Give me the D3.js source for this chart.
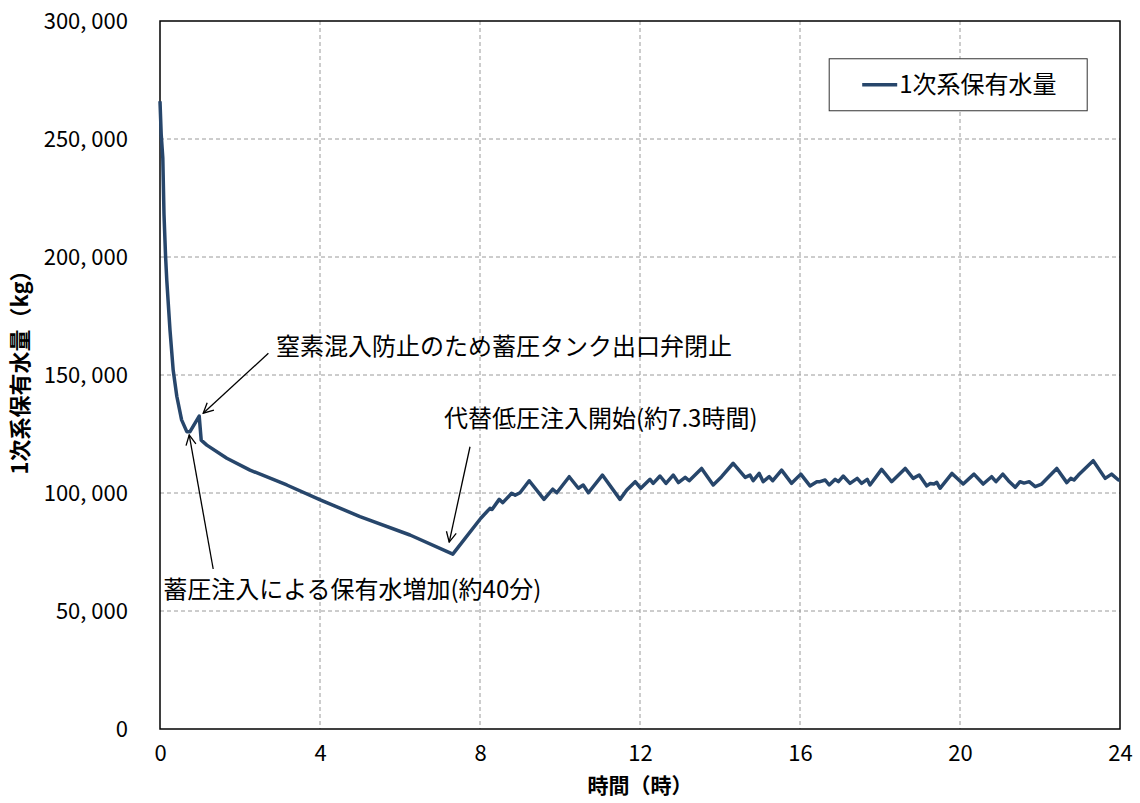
<!DOCTYPE html>
<html>
<head>
<meta charset="utf-8">
<script src="https://cdn.jsdelivr.net/npm/d3@7"></script>
<style>
  body { margin: 0; background: #fff; }
  text { font-family: "Noto Sans CJK JP", sans-serif; }
</style>
</head>
<body>
<div id="chart-container"></div>
<script>
// data (hours, kg)
const hours = [0, 0.03, 0.07, 0.1, 0.14, 0.17, 0.25, 0.33, 0.42, 0.54, 0.67, 0.75, 0.98, 1.03, 1.17, 1.67, 2.25, 3.17, 4.02, 5.0, 6.25, 7.32,
  8.02, 8.25, 8.3, 8.48, 8.57, 8.79, 8.88, 9.0, 9.23, 9.6, 9.82, 9.92, 10.23, 10.46, 10.58, 10.71, 11.06, 11.5, 11.67, 11.88,
  12.02, 12.25, 12.33, 12.5, 12.65, 12.83, 12.96, 13.13, 13.23, 13.54, 13.83, 14.04, 14.33, 14.63, 14.75, 14.83, 14.98, 15.08,
  15.23, 15.32, 15.54, 15.79, 16.02, 16.25, 16.42, 16.5, 16.63, 16.73, 16.88, 16.96, 17.08, 17.25, 17.43, 17.54, 17.68, 17.75,
  18.04, 18.29, 18.63, 18.83, 18.98, 19.17, 19.25, 19.35, 19.42, 19.5, 19.8, 20.08, 20.35, 20.58, 20.79, 20.9, 21.07, 21.21,
  21.38, 21.5, 21.6, 21.73, 21.88, 22.04, 22.42, 22.67, 22.77, 22.85, 22.96, 23.33, 23.63, 23.79, 23.96, 24];
const inventory = [266, 252, 242, 218, 200, 190, 169, 152, 141, 131, 126, 126, 132.6, 122.4, 120.3, 114.7, 109.7, 103.4, 97.0, 90.0, 82.2, 74.1,
  89.3, 93.5, 93.0, 97.3, 95.9, 99.9, 99.1, 100.1, 105.2, 97.3, 101.6, 100.1, 106.9, 102.0, 103.4, 100.1, 107.6, 97.3, 101.3, 104.8,
  102.0, 105.8, 104.1, 107.2, 104.1, 107.6, 104.4, 106.6, 105.2, 110.4, 103.4, 106.9, 112.6, 106.6, 107.6, 105.2, 108.3, 104.8,
  106.9, 105.2, 109.7, 104.1, 108.0, 103.0, 104.8, 104.8, 105.5, 103.4, 105.8, 104.8, 107.2, 104.1, 106.2, 104.1, 105.8, 103.4,
  110.0, 104.8, 110.4, 106.2, 107.6, 103.0, 104.0, 103.8, 104.5, 102.0, 108.3, 103.8, 108.0, 103.8, 106.9, 104.8, 108.0, 105.2,
  102.4, 104.8, 104.2, 104.8, 102.7, 103.8, 110.4, 104.4, 106.2, 105.5, 107.6, 113.7, 106.2, 108.0, 105.5, 105.5].map(v => v * 1000);

const xTicks = [0, 4, 8, 12, 16, 20, 24];
const yTicks = [0, 50000, 100000, 150000, 200000, 250000, 300000];
const seriesName = "1次系保有水量";

// annotations: text + arrow start and tip in data units
const notes = [
  { label: "窒素混入防止のため蓄圧タンク出口弁閉止", tx: 2.9, ty: 162000, from: [2.71, 159200], to: [1.08, 133800] },
  { label: "代替低圧注入開始(約7.3時間)", tx: 7.1, ty: 131500, from: [7.75, 119600], to: [7.23, 79200] },
  { label: "蓄圧注入による保有水増加(約40分)", tx: 0.08, ty: 59000, from: [1.33, 67800], to: [0.73, 124600] }
];

const margin = { top: 21, right: 20, bottom: 74, left: 160 };
const width = 1140 - margin.left - margin.right;
const height = 803 - margin.top - margin.bottom;

const x = d3.scaleLinear().domain([0, 24]).range([0, width]);
const y = d3.scaleLinear().domain([0, 300000]).range([height, 0]);

const svg = d3.select("#chart-container")
  .append("svg")
    .attr("width", 1140)
    .attr("height", 803)
  .append("g")
    .attr("transform", `translate(${margin.left},${margin.top})`);

svg.append("defs").append("marker")
  .attr("id", "arrow")
  .attr("viewBox", "0 0 12 12")
  .attr("refX", 11).attr("refY", 6)
  .attr("markerWidth", 12).attr("markerHeight", 12)
  .attr("markerUnits", "userSpaceOnUse")
  .attr("orient", "auto")
  .append("path")
    .attr("d", "M1,1 L11,6 L1,11")
    .attr("fill", "none")
    .attr("stroke", "#000")
    .attr("stroke-width", 1.3);

// gridlines
svg.selectAll(".xGrid")
  .data(xTicks.slice(1, -1))
  .join("line")
  .attr("x1", d => x(d)).attr("x2", d => x(d))
  .attr("y1", 0).attr("y2", height)
  .attr("stroke", "#9a9a9a")
  .attr("stroke-dasharray", "4,3")
  .attr("stroke-width", 1);

svg.selectAll(".yGrid")
  .data(yTicks.slice(1, -1))
  .join("line")
  .attr("x1", 0).attr("x2", width)
  .attr("y1", d => y(d)).attr("y2", d => y(d))
  .attr("stroke", "#9a9a9a")
  .attr("stroke-dasharray", "4,3")
  .attr("stroke-width", 1);

// plot frame
svg.append("rect")
  .attr("width", width).attr("height", height)
  .attr("fill", "none")
  .attr("stroke", "#000")
  .attr("stroke-width", 1.5);

// axes
const xAxis = svg.append("g")
  .attr("transform", `translate(0,${height})`)
  .call(d3.axisBottom(x).tickValues(xTicks).tickSize(0).tickPadding(16));
const yAxis = svg.append("g")
  .call(d3.axisLeft(y).tickValues(yTicks).tickSize(0).tickPadding(32)
    .tickFormat(d => d3.format(",")(d).replace(",", ", ")));
[xAxis, yAxis].forEach(a => {
  a.select(".domain").remove();
  a.selectAll("text").style("font-size", "22px").attr("fill", "#000");
});

// axis titles
svg.append("text")
  .attr("x", width / 2).attr("y", height + 64)
  .attr("text-anchor", "middle")
  .style("font-size", "21px").style("font-weight", "bold")
  .text("時間（時）");

svg.append("text")
  .attr("transform", "rotate(-90)")
  .attr("x", -(height / 2) + 8).attr("y", -margin.left + 28)
  .attr("text-anchor", "middle")
  .style("font-size", "22px").style("font-weight", "bold")
  .text("1次系保有水量（kg）");

// series
const line = d3.line()
  .x((d, i) => x(hours[i]))
  .y(d => y(d));

svg.append("path")
  .datum(inventory)
  .attr("fill", "none")
  .attr("stroke", "#27466b")
  .attr("stroke-width", 3.5)
  .attr("stroke-linejoin", "round")
  .attr("d", line);

// annotations
notes.forEach(n => {
  svg.append("line")
    .attr("x1", x(n.from[0])).attr("y1", y(n.from[1]))
    .attr("x2", x(n.to[0])).attr("y2", y(n.to[1]))
    .attr("stroke", "#000")
    .attr("stroke-width", 1.3)
    .attr("marker-end", "url(#arrow)");
  svg.append("text")
    .attr("x", x(n.tx)).attr("y", y(n.ty))
    .attr("dy", "0.35em")
    .style("font-size", "24px")
    .text(n.label);
});

// legend
const legend = svg.append("g")
  .attr("transform", `translate(${x(16.73)},${y(284000)})`);
legend.append("rect")
  .attr("width", 258).attr("height", 52)
  .attr("fill", "#fff")
  .attr("stroke", "#333")
  .attr("stroke-width", 1);
legend.append("line")
  .attr("x1", 33).attr("x2", 68)
  .attr("y1", 26).attr("y2", 26)
  .attr("stroke", "#27466b")
  .attr("stroke-width", 3.5);
legend.append("text")
  .attr("x", 70).attr("y", 26)
  .attr("dy", "0.35em")
  .style("font-size", "24px")
  .text(seriesName);
</script>
</body>
</html>
